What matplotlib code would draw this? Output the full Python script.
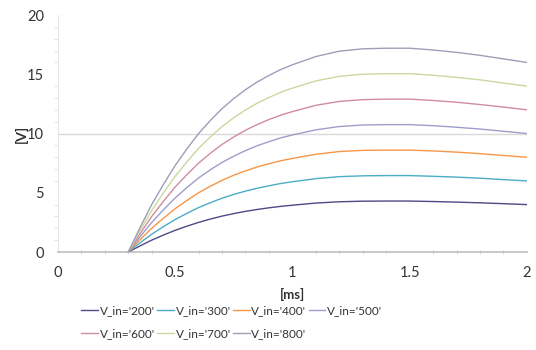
import matplotlib
matplotlib.use("Agg")
import matplotlib.pyplot as plt
from matplotlib.ticker import MultipleLocator

plt.rcParams['font.family'] = ['Lato', 'DejaVu Sans']

t_ms = [0.3, 0.35, 0.4, 0.45, 0.5, 0.55, 0.6, 0.65, 0.7, 0.75, 0.8, 0.85, 0.9, 0.95, 1.0,
        1.1, 1.2, 1.3, 1.4, 1.5, 1.6, 1.7, 1.8, 1.9, 2.0]

v_200 = [0, 0.51, 1.0, 1.43, 1.83, 2.18, 2.5, 2.78, 3.03, 3.24, 3.43, 3.59, 3.73, 3.85, 3.95,
         4.13, 4.24, 4.29, 4.3, 4.3, 4.26, 4.21, 4.15, 4.08, 4.0]
v_300 = [0, 0.77, 1.5, 2.14, 2.74, 3.26, 3.75, 4.16, 4.54, 4.86, 5.14, 5.38, 5.59, 5.78, 5.93,
         6.19, 6.36, 6.43, 6.45, 6.45, 6.39, 6.32, 6.23, 6.11, 6.0]
v_400 = [0, 1.03, 2.0, 2.85, 3.65, 4.35, 5.0, 5.55, 6.05, 6.48, 6.85, 7.18, 7.45, 7.7, 7.9,
         8.25, 8.48, 8.58, 8.6, 8.6, 8.53, 8.43, 8.3, 8.15, 8.0]
v_500 = [0, 1.28, 2.5, 3.56, 4.56, 5.44, 6.25, 6.94, 7.56, 8.09, 8.56, 8.97, 9.31, 9.63, 9.88,
         10.31, 10.59, 10.72, 10.75, 10.75, 10.66, 10.53, 10.38, 10.19, 10.0]
v_600 = [0, 1.54, 3.0, 4.28, 5.48, 6.53, 7.5, 8.33, 9.08, 9.71, 10.28, 10.76, 11.18, 11.55, 11.85,
         12.38, 12.71, 12.86, 12.9, 12.9, 12.79, 12.64, 12.45, 12.23, 12.0]
v_700 = [0, 1.79, 3.5, 4.99, 6.39, 7.61, 8.75, 9.71, 10.59, 11.33, 11.99, 12.56, 13.04, 13.48, 13.83,
         14.44, 14.83, 15.01, 15.05, 15.05, 14.92, 14.74, 14.53, 14.26, 14.0]
v_800 = [0, 2.05, 4.0, 5.7, 7.3, 8.7, 10.0, 11.1, 12.1, 12.95, 13.7, 14.35, 14.9, 15.4, 15.8,
         16.5, 16.95, 17.15, 17.2, 17.2, 17.05, 16.85, 16.6, 16.3, 16.0]

labels = ["V_in='200'", "V_in='300'", "V_in='400'", "V_in='500'",
          "V_in='600'", "V_in='700'", "V_in='800'"]
series = [v_200, v_300, v_400, v_500, v_600, v_700, v_800]
colors = ['#4d4a86', '#4bacc6', '#f79646', '#9d9dcc', '#d08c9c', '#c8d9a0', '#9e9eb8']

fig = plt.figure(figsize=(5.36, 3.5), dpi=100)
ax = fig.add_axes([0.108, 0.28, 0.875, 0.677])

ax.axhline(10, color='#d9d9d9', lw=1.0, zorder=1)
handles = []
for vals, lab, c in zip(series, labels, colors):
    h, = ax.plot(t_ms, vals, color=c, lw=1.0, label=lab, zorder=3)
    handles.append(h)

ax.set_xlim(0, 2)
ax.set_ylim(0, 20)
ax.xaxis.set_major_locator(MultipleLocator(0.5))
ax.xaxis.set_minor_locator(MultipleLocator(0.1))
ax.yaxis.set_major_locator(MultipleLocator(5))
ax.yaxis.set_minor_locator(MultipleLocator(1))
ax.xaxis.set_major_formatter(matplotlib.ticker.FuncFormatter(lambda v, p: f"{v:g}"))

for s in ['top', 'right']:
    ax.spines[s].set_visible(False)
ax.spines['bottom'].set_color('#bfbfbf')
ax.spines['bottom'].set_linewidth(1.2)
ax.spines['left'].set_color('#e6e6e6')
ax.spines['left'].set_linewidth(0.8)

ax.tick_params(axis='x', which='major', length=0, pad=10, labelsize=10.5, labelcolor='#333333')
ax.tick_params(axis='x', which='minor', length=3, color='#d0d0d0', direction='inout')
ax.tick_params(axis='y', which='major', length=0, pad=10, labelsize=10.5, labelcolor='#333333')
ax.tick_params(axis='y', which='minor', length=3, color='#e0e0e0', direction='out')

ax.set_xlabel('[ms]', fontsize=9.5, fontweight='bold', color='#333333', labelpad=6)
ax.set_ylabel('[V]', fontsize=10, fontweight='bold', color='#333333')
ax.yaxis.set_label_coords(-0.064, 0.5)

order = [0, 4, 1, 5, 2, 6, 3]
leg = fig.legend([handles[i] for i in order], [labels[i] for i in order],
                 ncol=4, loc='upper left', bbox_to_anchor=(0.152, 0.128),
                 frameon=False, fontsize=8.5, handlelength=1.4, handletextpad=0.15,
                 columnspacing=0.2, labelspacing=1.0, borderaxespad=0, borderpad=0)
for txt in leg.get_texts():
    txt.set_color('#333333')

fig.savefig('out.png', dpi=100)
